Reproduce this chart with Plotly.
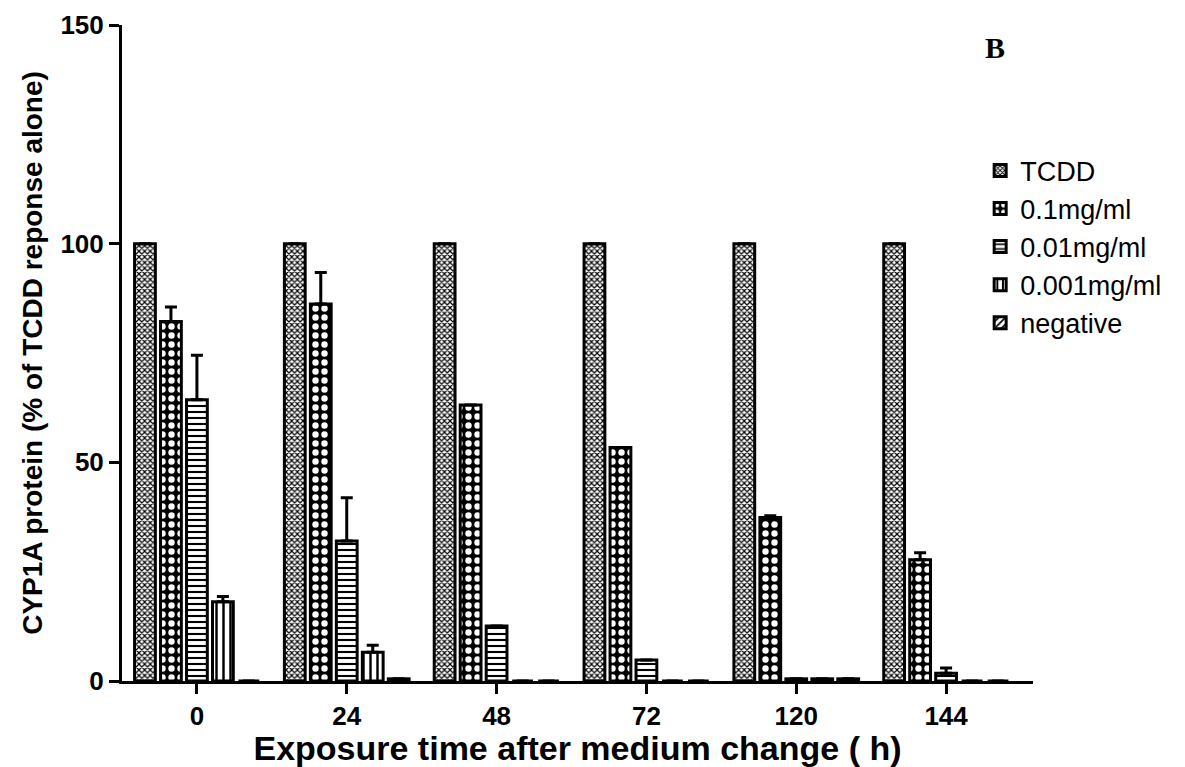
import plotly.graph_objects as go

categories = ["0", "24", "48", "72", "120", "144"]
series_names = ["TCDD", "0.1mg/ml", "0.01mg/ml", "0.001mg/ml", "negative"]

tcdd = [100, 100, 100, 100, 100, 100]
c01 = [82.2, 86.2, 63.1, 53.4, 37.4, 27.7]
c001 = [64.3, 32.0, 12.6, 4.8, 0.5, 1.8]
c0001 = [18.1, 6.6, 0, 0, 0.5, 0]
negative = [0, 0.5, 0, 0, 0.5, 0]

err_tcdd = [0, 0, 0, 0, 0, 0]
err_c01 = [3.3, 7.2, 0, 0, 0.4, 1.6]
err_c001 = [10.2, 9.9, 0, 0, 0, 1.2]
err_c0001 = [1.2, 1.6, 0, 0, 0, 0]
err_negative = [0, 0, 0, 0, 0, 0]

values = [tcdd, c01, c001, c0001, negative]
errors = [err_tcdd, err_c01, err_c001, err_c0001, err_negative]

patterns = [
    dict(shape="x", fgcolor="black", bgcolor="white", size=4, solidity=0.5, fillmode="replace"),
    dict(shape=".", fgcolor="white", bgcolor="black", size=9, solidity=0.4, fillmode="replace"),
    dict(shape="-", fgcolor="black", bgcolor="white", size=6, solidity=0.35, fillmode="replace"),
    dict(shape="|", fgcolor="black", bgcolor="white", size=7, solidity=0.35, fillmode="replace"),
    dict(shape="/", fgcolor="black", bgcolor="white", size=6, solidity=0.35, fillmode="replace"),
]

FONT = "Liberation Sans, Arial, sans-serif"

# page body adds an 8px margin; the figure is sized to fit the window
W, H = 1177, 759
L, T = 114, 17
PW, PH = 911, 656

fig = go.Figure()
for name, vals, errs, pat in zip(series_names, values, errors, patterns):
    fig.add_trace(go.Bar(
        name=name,
        x=categories,
        y=vals,
        legendgroup=name,
        marker=dict(color="white", pattern=pat, line=dict(color="black", width=3)),
        error_y=dict(type="data", array=errs, arrayminus=[0] * len(errs), symmetric=False,
                     color="black", thickness=3, width=6, visible=True),
    ))

fig.update_layout(
    width=W, height=H,
    paper_bgcolor="white", plot_bgcolor="white",
    margin=dict(l=L, r=W - L - PW, t=T, b=H - T - PH, autoexpand=False),
    barmode="group",
    bargap=0.133,
    bargroupgap=0.2,
    font=dict(family=FONT, color="black"),
    legend=dict(
        x=0.942, y=0.815, xanchor="left", yanchor="top",
        font=dict(family=FONT, size=27, color="black"),
        bgcolor="rgba(0,0,0,0)", tracegroupgap=0,
    ),
    annotations=[dict(
        text="<b>B</b>", x=0.958, y=0.965, xref="paper", yref="paper",
        xanchor="center", yanchor="middle",
        showarrow=False, font=dict(family="Liberation Serif, Times New Roman, serif", size=30, color="black"),
    )],
)

fig.update_xaxes(
    type="category", categoryorder="array", categoryarray=categories,
    range=[-0.5, 5.58],
    showline=True, linecolor="black", linewidth=3,
    ticks="outside", ticklen=10, tickwidth=3, tickcolor="black",
    tickfont=dict(family=FONT, size=26, color="black", weight="bold"),
    showgrid=False, zeroline=False,
    title=dict(text="<b>Exposure time after medium change ( h)</b>",
               font=dict(family=FONT, size=34, color="black"), standoff=2),
)
fig.update_yaxes(
    range=[0, 150], tickvals=[0, 50, 100, 150],
    showline=True, linecolor="black", linewidth=3,
    ticks="outside", ticklen=10, tickwidth=3, tickcolor="black",
    tickfont=dict(family=FONT, size=26, color="black", weight="bold"),
    showgrid=False, zeroline=False,
    title=dict(text="<b>CYP1A protein (% of TCDD reponse alone)</b>",
               font=dict(family=FONT, size=28, color="black"), standoff=10),
)

fig.write_html("out.html")
